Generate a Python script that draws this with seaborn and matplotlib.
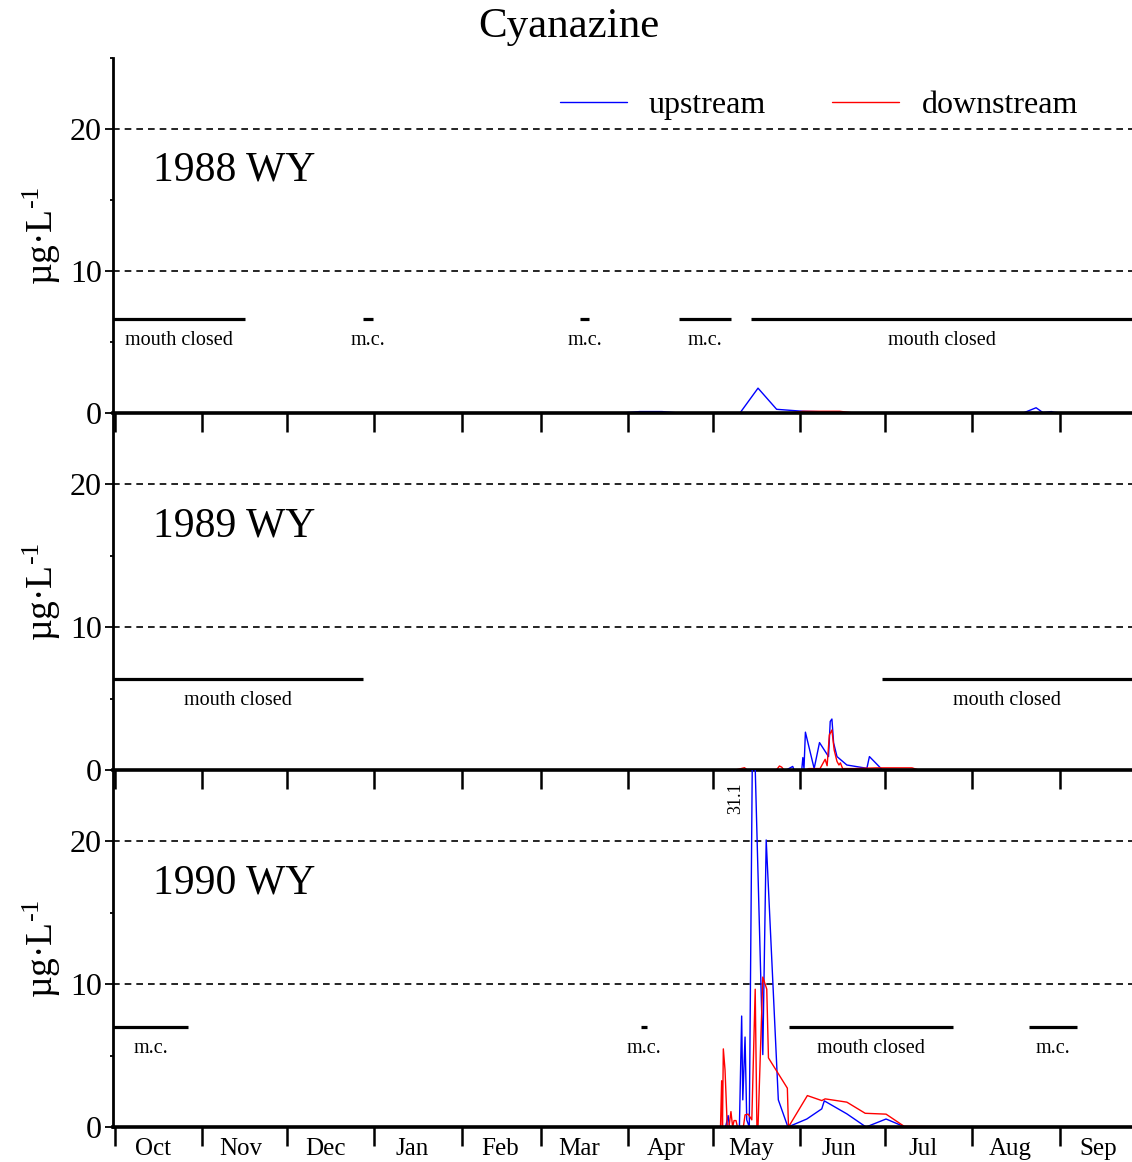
import numpy as np
import pandas as pd
import matplotlib
matplotlib.use("Agg")
import matplotlib.pyplot as plt
import seaborn as sns

# ---------------- data ----------------
# day of water year (0 = Oct 1)
days_1988_up = [180, 186, 194, 200, 221.6, 228.0, 234.6, 244.0, 252, 258, 322, 326.6, 329.0, 332.0, 333.0, 336]
conc_1988_up = [0, 0.1, 0.1, 0, 0, 1.75, 0.26, 0.12, 0.08, 0, 0, 0.37, 0.03, 0.1, 0.05, 0]
days_1988_down = [239, 244, 257, 262]
conc_1988_down = [0, 0.12, 0.12, 0]

days_1989_up = [230, 238.0, 240.3, 240.8, 243.5, 243.9, 244.3, 244.8, 247.9, 249.8, 253.0, 253.6, 254.2,
                254.8, 256.0, 259.5, 266.6, 267.5, 271.9, 285]
conc_1989_up = [0, 0, 0.25, 0, 0, 0.87, 0.1, 2.65, 0.1, 1.92, 0.94, 3.4, 3.57, 1.9, 0.94, 0.35, 0.12, 0.94, 0.05, 0]
days_1989_down = [220, 223.2, 224.2, 234.5, 235.6, 236.4, 237.2, 245.0, 246.0, 250.0, 251.8, 252.5, 253.3,
                  254.2, 255.0, 256.0, 256.7, 257.2, 258.0, 262.0, 270.0, 282.6, 285]
conc_1989_down = [0, 0.16, 0, 0, 0.28, 0.2, 0, 0, 0.1, 0.1, 0.75, 0.3, 2.46, 2.8, 1.4, 0.6, 0.35, 0.5, 0.1,
                  0.1, 0.15, 0.15, 0]

days_1990_up = [210, 216.5, 217.4, 217.9, 221.4, 222.2, 222.6, 223.4, 224.0, 224.9, 226.2, 229.7, 230.9,
                235.2, 238.6, 245.3, 250.6, 251.5, 259.5, 266.3, 273.4, 280.1, 300]
conc_1990_up = [0, 0, 0.8, 0, 0, 7.77, 1.9, 6.3, 0.5, 0, 31.1, 5.07, 20.1, 1.9, 0, 0.56, 1.27, 1.83, 0.92,
                0, 0.56, 0, 0]
days_1990_down = [210, 214.7, 215.1, 215.4, 215.7, 216.3, 217.1, 217.7, 218.4, 219.0, 219.5, 220.2, 220.7,
                  222.8, 223.4, 224.5, 225.8, 227.0, 227.6, 228.0, 229.7, 231.1, 231.7, 238.4, 238.8, 245.5,
                  250.6, 251.8, 259.5, 266.0, 273.4, 279.8, 300]
conc_1990_down = [0, 0, 3.24, 0, 5.47, 4.0, 0, 0, 1.08, 0, 0.45, 0.45, 0, 0, 0.85, 0.9, 0.5, 9.65, 0.1, 0,
                  10.5, 9.65, 4.84, 2.72, 0, 2.2, 1.85, 1.97, 1.74, 0.96, 0.9, 0.05, 0]

# mouth-closed periods (start day, end day, label)
mc_1988_start = [-1, 88, 165, 200, 225.5]
mc_1988_end = [46, 91.5, 168, 218.4, 362]
mc_1988_label = ["mouth closed", "m.c.", "m.c.", "m.c.", "mouth closed"]
mc_1989_start = [-1, 272]
mc_1989_end = [88, 362]
mc_1989_label = ["mouth closed", "mouth closed"]
mc_1990_start = [-1, 186.5, 239, 324]
mc_1990_end = [26, 188.6, 297, 341]
mc_1990_label = ["m.c.", "m.c.", "mouth closed", "m.c."]

years = ["1988 WY", "1989 WY", "1990 WY"]
month_starts = [0, 31, 61, 92, 123, 151, 182, 212, 243, 273, 304, 335, 365]
month_labels = ["Oct", "Nov", "Dec", "Jan", "Feb", "Mar", "Apr", "May", "Jun", "Jul", "Aug", "Sep"]
sites = ["upstream", "downstream"]
site_colors = ["#0000ff", "#ff0000"]
title = "Cyanazine"
peak_label = "31.1"
peak_day = 219.9
peak_pos = 23.0

# ---------------- style ----------------
sns.set_style("ticks")
plt.rcParams["font.family"] = ["Liberation Serif", "DejaVu Serif"]
plt.rcParams["mathtext.fontset"] = "custom"
plt.rcParams["mathtext.rm"] = "Liberation Serif"
plt.rcParams["mathtext.it"] = "Liberation Serif"
plt.rcParams["mathtext.default"] = "regular"
for k in ("text.color", "axes.labelcolor", "xtick.color", "ytick.color", "axes.edgecolor"):
    plt.rcParams[k] = "black"

fig = plt.figure(figsize=(11.32, 11.62), dpi=100)
left, width = 113 / 1132, 1 - 113 / 1132
H = 1162
panels = [
    (1 - 413 / H, 355 / H),
    (1 - 770 / H, 357 / H),
    (1 - 1127 / H, 357 / H),
]
up_data = [(days_1988_up, conc_1988_up), (days_1989_up, conc_1989_up), (days_1990_up, conc_1990_up)]
down_data = [(days_1988_down, conc_1988_down), (days_1989_down, conc_1989_down), (days_1990_down, conc_1990_down)]
mc_data = [(mc_1988_start, mc_1988_end, mc_1988_label),
           (mc_1989_start, mc_1989_end, mc_1989_label),
           (mc_1990_start, mc_1990_end, mc_1990_label)]
mc_bar_y = [6.6, 6.4, 7.0]

palette = dict(zip(sites, site_colors))
axes = []
for i in range(3):
    b, h = panels[i]
    ax = fig.add_axes([left, b, width, h])
    ax.set_facecolor("none")
    axes.append(ax)
    ud, uc = up_data[i]
    dd, dc = down_data[i]
    df = pd.DataFrame({
        "day": list(ud) + list(dd),
        "conc": list(uc) + list(dc),
        "site": [sites[0]] * len(ud) + [sites[1]] * len(dd),
    })
    sns.lineplot(data=df, x="day", y="conc", hue="site", hue_order=sites, palette=palette,
                 estimator=None, sort=False, lw=1, ax=ax, legend=(i == 0))
    ax.set_xlim(-0.7, 360.6)
    ax.set_ylim(0, 25)
    ax.set_xlabel("")
    ax.set_ylabel("")
    for yv in (10, 20):
        ax.axhline(yv, color="black", lw=1.2, ls=(0, (4, 3)), zorder=1)
    # mouth closed bars
    st, en, lb = mc_data[i]
    for s, e, l in zip(st, en, lb):
        ax.plot([s, e], [mc_bar_y[i]] * 2, color="black", lw=2.3, solid_capstyle="butt", clip_on=True)
        ax.text((max(s, -0.7) + min(e, 360.6)) / 2, mc_bar_y[i] - 1.5, l, ha="center", va="center",
                fontsize=14.5)
    ax.text(13.5, 17.1, years[i], fontsize=30, ha="left", va="center")
    # spines
    sns.despine(ax=ax, top=True, right=True)
    ax.spines["bottom"].set_linewidth(2.6)
    ax.spines["left"].set_linewidth(2.0)
    ax.spines["bottom"].set_zorder(3)
    # y ticks
    ax.set_yticks([0, 10, 20])
    ax.set_yticks([5, 15, 25], minor=True)
    ax.tick_params(axis="y", which="major", length=6, width=1.3, pad=2, labelsize=23)
    ax.tick_params(axis="y", which="minor", length=2, width=1.3)
    # x ticks
    ax.set_xticks(month_starts[:-1])
    ax.tick_params(axis="x", which="major", direction="out", length=14, width=1.8, labelbottom=False)
    mids = [month_starts[k] + 13.5 for k in range(12)]
    ax.set_xticks(mids, minor=True)
    if i == 2:
        ax.set_xticklabels(month_labels, minor=True)
        ax.tick_params(axis="x", which="minor", length=0, pad=8, labelsize=18)
    else:
        ax.tick_params(axis="x", which="minor", length=0, labelbottom=False)
    ax.text(-0.0697, 0.5, r"µg·L$^{\text{-1}}$", transform=ax.transAxes, rotation=90, ha="center",
            va="center", fontsize=27)

# legend on top panel
ax0 = axes[0]
handles, labels = ax0.get_legend_handles_labels()
if ax0.get_legend() is not None:
    ax0.get_legend().remove()
ax0.legend(handles, labels, loc="center right", bbox_to_anchor=(0.947, 0.867), ncol=2, frameon=False,
           fontsize=23, handlelength=2.1, handletextpad=0.7, columnspacing=2.06, borderpad=0,
           borderaxespad=0)

# peak annotation
axes[2].text(peak_day, peak_pos, peak_label, rotation=90, ha="center", va="center", fontsize=13)

fig.text(569 / 1132, 1 - 27 / H, title, ha="center", va="center", fontsize=31)

fig.savefig("out.png", dpi=100)
